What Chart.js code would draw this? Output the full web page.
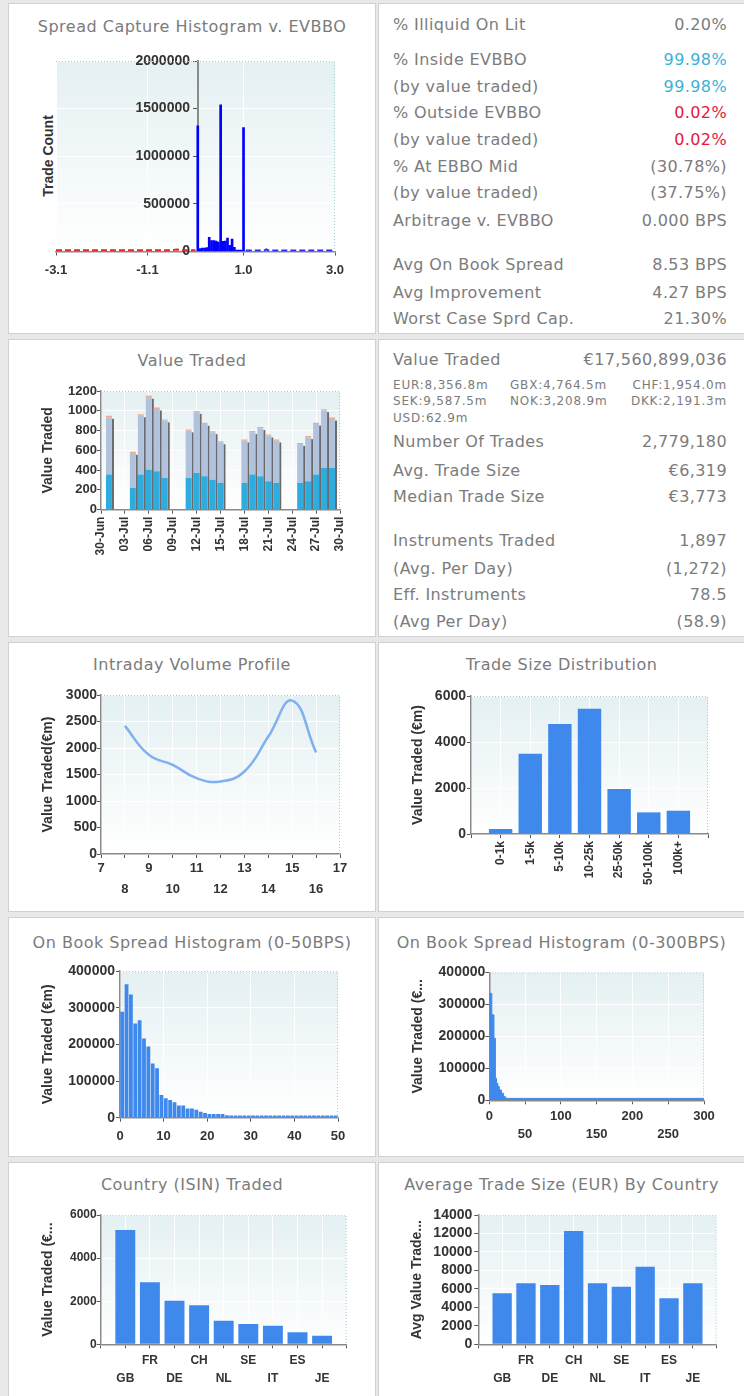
<!DOCTYPE html>
<html>
<head>
<meta charset="utf-8">
<script src="https://cdn.jsdelivr.net/npm/chart.js@4.4.1/dist/chart.umd.min.js"></script>
<style>
  body { margin: 0; width: 744px; height: 1396px; background: #e8e8e8; position: relative; overflow: hidden;
         font-family: "DejaVu Sans", Verdana, sans-serif; }
  .panel { position: absolute; background: #fff; border: 1px solid #d0d0d0; box-sizing: border-box; }
  .ttl { position: absolute; height: 20px; line-height: 20px; font-size: 16px; letter-spacing: 0.5px;
         color: #7b7b7b; text-align: center; white-space: nowrap; }
  .row { position: absolute; left: 393px; width: 334px; height: 20px; line-height: 20px; font-size: 16px;
         letter-spacing: 0.4px; color: #7c7c7c; white-space: nowrap; }
  .row span { position: absolute; right: 0; }
  .cur { position: absolute; height: 16px; line-height: 16px; font-size: 12px; letter-spacing: 0.8px;
         color: #7c7c7c; white-space: nowrap; }
  .cy { color: #3bb2d8; }
  .rd { color: #e5183c; }
  .ytl { position: absolute; transform: translate(-50%, -50%) rotate(-90deg); white-space: nowrap;
         font: bold 14px "Liberation Sans", Arial, sans-serif; color: #333; }
  canvas { position: absolute; }
</style>
</head>
<body>
<div class="panel" style="left:8px;top:3px;width:368px;height:331px"></div>
<div class="panel" style="left:378px;top:3px;width:367px;height:331px"></div>
<div class="panel" style="left:8px;top:339px;width:368px;height:298px"></div>
<div class="panel" style="left:378px;top:339px;width:367px;height:298px"></div>
<div class="panel" style="left:8px;top:642px;width:368px;height:270px"></div>
<div class="panel" style="left:378px;top:642px;width:367px;height:270px"></div>
<div class="panel" style="left:8px;top:917px;width:368px;height:240px"></div>
<div class="panel" style="left:378px;top:917px;width:367px;height:240px"></div>
<div class="panel" style="left:8px;top:1162px;width:368px;height:240px"></div>
<div class="panel" style="left:378px;top:1162px;width:367px;height:240px"></div>

<div class="ttl" style="left:8px;width:368px;top:17px">Spread Capture Histogram v. EVBBO</div>
<div class="ttl" style="left:8px;width:368px;top:351px">Value Traded</div>
<div class="ttl" style="left:8px;width:368px;top:655px">Intraday Volume Profile</div>
<div class="ttl" style="left:378px;width:367px;top:655px">Trade Size Distribution</div>
<div class="ttl" style="left:8px;width:368px;top:933px">On Book Spread Histogram (0-50BPS)</div>
<div class="ttl" style="left:378px;width:367px;top:933px">On Book Spread Histogram (0-300BPS)</div>
<div class="ttl" style="left:8px;width:368px;top:1175px">Country (ISIN) Traded</div>
<div class="ttl" style="left:378px;width:367px;top:1175px">Average Trade Size (EUR) By Country</div>

<div class="ytl" style="left:48px;top:156px">Trade Count</div>

<div id="stats"></div>

<canvas id="c1"></canvas>
<canvas id="c2"></canvas>
<canvas id="c3"></canvas>
<canvas id="c4"></canvas>
<canvas id="c5"></canvas>
<canvas id="c6"></canvas>
<canvas id="c7"></canvas>
<canvas id="c8"></canvas>

<script>
// ---- data ----
const captureTicks = [-3.1, -1.1, 1.0, 3.0];
const captureBinX = [0.00, 0.05, 0.10, 0.15, 0.20, 0.25, 0.30, 0.35, 0.40, 0.45, 0.50,
                     0.55, 0.60, 0.65, 0.70, 0.75, 0.80, 0.85, 0.90, 0.95, 1.00];
const captureBinCount = [1320000, 30000, 35000, 35000, 40000, 150000, 115000, 115000, 110000, 98000, 1540000,
                         108000, 110000, 140000, 65000, 130000, 45000, 15000, 15000, 15000, 1300000];
const outsideX = [-3.1, -2.5, -2.0, -1.5, -1.0, -0.6, -0.45, -0.3, -0.05];
const outsideCount = [12000, 12000, 12000, 12000, 12000, 12000, 20000, 12000, 12000];
const tailX = [1.05, 1.45, 1.5, 1.55, 2.0, 2.5, 3.0];
const tailCount = [10000, 10000, 22000, 10000, 10000, 10000, 10000];

const tradeDays = [1, 4, 5, 6, 7, 8, 11, 12, 13, 14, 15, 18, 19, 20, 21, 22, 25, 26, 27, 28, 29];
const dayTickLabels = ['30-Jun', '03-Jul', '06-Jul', '09-Jul', '12-Jul', '15-Jul',
                       '18-Jul', '21-Jul', '24-Jul', '27-Jul', '30-Jul'];
const valueEur = [355, 220, 355, 405, 389, 321, 321, 372, 338, 304, 270, 270, 355, 338, 287, 270, 270, 287, 355, 422, 422];
const valueOther = [580, 353, 596, 732, 630, 580, 478, 613, 529, 478, 411, 428, 427, 485, 462, 428, 394, 445, 512, 580, 496];
const valueCap = [14, 12, 13, 15, 14, 12, 13, 14, 12, 12, 11, 12, 13, 13, 12, 12, 11, 12, 13, 14, 13];

const hours = [8, 9, 10, 11, 12, 13, 14, 15, 16];
const hourValues = [2417, 1871, 1682, 1431, 1368, 1557, 2216, 2894, 1915];

const sizeBuckets = ['0-1k', '1-5k', '5-10k', '10-25k', '25-50k', '50-100k', '100k+'];
const sizeValues = [217, 3484, 4785, 5450, 1952, 940, 1012];

const spread50 = [289000, 364000, 336000, 257000, 266000, 216000, 194000, 148000, 135000, 62000,
                  53000, 48000, 42000, 33000, 33000, 25000, 25000, 22000, 16000, 13000,
                  10000, 10000, 10000, 10000, 7000, 6000, 6000, 6000, 6000, 6000,
                  6000, 6000, 6000, 6000, 6000, 6000, 6000, 6000, 6000, 6000,
                  6000, 6000, 6000, 6000, 6000, 6000, 6000, 6000, 6000, 6000];

// right edge of each bin and its value (0-300 BPS)
const spread300Edges = [0, 3.5, 6.5, 8.5, 10, 12, 14, 17, 20, 23, 300];
const spread300Values = [334000, 334000, 267000, 194000, 69000, 53000, 43000, 32000, 22000, 11000, 6000];

const countries = ['GB', 'FR', 'DE', 'CH', 'NL', 'SE', 'IT', 'ES', 'JE'];
const countryValue = [5304, 2876, 2026, 1809, 1098, 943, 866, 557, 402];
const countryAvgSize = [5521, 6604, 6423, 12270, 6604, 6243, 8408, 4980, 6604];

// ---- stats text ----
const statRows = [
  ['% Illiquid On Lit', '0.20%', 25, ''],
  ['% Inside EVBBO', '99.98%', 60, 'cy'],
  ['(by value traded)', '99.98%', 87, 'cy'],
  ['% Outside EVBBO', '0.02%', 113, 'rd'],
  ['(by value traded)', '0.02%', 140, 'rd'],
  ['% At EBBO Mid', '(30.78%)', 167, ''],
  ['(by value traded)', '(37.75%)', 193, ''],
  ['Arbitrage v. EVBBO', '0.000 BPS', 221, ''],
  ['Avg On Book Spread', '8.53 BPS', 265, ''],
  ['Avg Improvement', '4.27 BPS', 293, ''],
  ['Worst Case Sprd Cap.', '21.30%', 319, ''],
  ['Value Traded', '€17,560,899,036', 360, ''],
  ['Number Of Trades', '2,779,180', 442, ''],
  ['Avg. Trade Size', '€6,319', 471, ''],
  ['Median Trade Size', '€3,773', 497, ''],
  ['Instruments Traded', '1,897', 541, ''],
  ['(Avg. Per Day)', '(1,272)', 569, ''],
  ['Eff. Instruments', '78.5', 595, ''],
  ['(Avg Per Day)', '(58.9)', 622, '']
];
const currencyRows = [
  ['EUR:8,356.8m', 'GBX:4,764.5m', 'CHF:1,954.0m', 385],
  ['SEK:9,587.5m', 'NOK:3,208.9m', 'DKK:2,191.3m', 401],
  ['USD:62.9m', '', '', 418]
];

const stats = document.getElementById('stats');
statRows.forEach(([label, value, y, cls]) => {
  const d = document.createElement('div');
  d.className = 'row';
  d.style.top = (y - 10) + 'px';
  d.textContent = label;
  const s = document.createElement('span');
  s.textContent = value;
  if (cls) s.className = cls;
  d.appendChild(s);
  stats.appendChild(d);
});
currencyRows.forEach(([a, b, c, y]) => {
  [[a, 'left:393px'], [b, 'left:510px'], [c, 'right:17px']].forEach(([t, pos]) => {
    if (!t) return;
    const d = document.createElement('div');
    d.className = 'cur';
    d.style.cssText = pos + ';top:' + (y - 8) + 'px';
    d.textContent = t;
    stats.appendChild(d);
  });
});

// ---- chart defaults ----
Chart.defaults.font.family = "'Liberation Sans', Arial, sans-serif";
Chart.defaults.font.weight = 'bold';
Chart.defaults.font.size = 14;
Chart.defaults.color = '#333';
Chart.defaults.animation = false;
Chart.defaults.responsive = false;
Chart.defaults.devicePixelRatio = 1;
Chart.defaults.plugins.legend.display = false;
Chart.defaults.plugins.tooltip.enabled = false;

// pale gradient plot area with dotted top/right border
Chart.register({
  id: 'plotBg',
  beforeDraw(chart) {
    const { ctx, chartArea: a } = chart;
    const g = ctx.createLinearGradient(0, a.top, 0, a.bottom);
    g.addColorStop(0, '#e4f0f2');
    g.addColorStop(1, '#ffffff');
    ctx.save();
    ctx.fillStyle = g;
    ctx.fillRect(a.left, a.top, a.right - a.left, a.bottom - a.top);
    ctx.restore();
  },
  afterDraw(chart) {
    const { ctx, chartArea: a } = chart;
    ctx.save();
    ctx.strokeStyle = '#9ccbd2';
    ctx.lineWidth = 1;
    ctx.setLineDash([1, 2]);
    ctx.beginPath();
    ctx.moveTo(a.left, a.top + 0.5);
    ctx.lineTo(a.right - 0.5, a.top + 0.5);
    ctx.lineTo(a.right - 0.5, a.bottom);
    ctx.stroke();
    ctx.restore();
  }
});

// canvas box and plot rect in page pixels
function frame(id, box, plot, titleX) {
  const c = document.getElementById(id);
  c.width = box[2];
  c.height = box[3];
  c.style.left = box[0] + 'px';
  c.style.top = box[1] + 'px';
  const scaleLeft = titleX - 7;
  return {
    padding: { left: scaleLeft - box[0], top: plot[1] - box[1], right: box[0] + box[2] - plot[2], bottom: 0 },
    yWidth: plot[0] - scaleLeft,
    xHeight: box[1] + box[3] - plot[3]
  };
}

function yAxis(f, max, step, title, pad, size) {
  return {
    min: 0, max: max,
    ticks: { stepSize: step, padding: pad, autoSkip: false, font: { size: size || 14 }, callback: v => String(v) },
    grid: { color: '#ffffff', tickColor: '#555', tickLength: 4 },
    border: { color: '#8a8a8a', width: 1.5 },
    title: { display: true, text: title, padding: 0, color: '#333', font: { size: 14, weight: 'bold', lineHeight: 1 } },
    afterFit: s => { s.width = f.yWidth; }
  };
}

function xAxis(f, min, max, step, pad, size, lineHeight, callback, rotate) {
  return {
    type: 'linear', min: min, max: max, offset: false,
    ticks: { stepSize: step, padding: pad, autoSkip: false, maxRotation: rotate ? 90 : 0, minRotation: rotate ? 90 : 0,
             font: { size: size, lineHeight: lineHeight }, callback: callback },
    grid: { color: '#ffffff', tickColor: '#555', tickLength: 4, offset: false },
    border: { color: '#8a8a8a', width: 1.5 },
    afterFit: s => { s.height = f.xHeight; }
  };
}

const altRows = (v, first) => (first ? [String(v)] : ['', String(v)]);

// 1. spread capture histogram (y axis crosses at x = 0)
const f1 = frame('c1', [9, 40, 365, 290], [56, 61, 335, 251.5], 63);
const x1 = xAxis(f1, -3.1, 3.0, 1, 7, 13, 1.2, v => v.toFixed(1));
x1.afterBuildTicks = s => { s.ticks = captureTicks.map(v => ({ value: v })); };
new Chart('c1', {
  type: 'bar',
  data: {
    datasets: [
      { type: 'line', data: outsideX.map((x, i) => ({ x: x, y: outsideCount[i] })),
        borderColor: '#e4262a', borderWidth: 2, borderDash: [6, 3], pointRadius: 0 },
      { type: 'line', data: tailX.map((x, i) => ({ x: x, y: tailCount[i] })),
        borderColor: '#2b2bff', borderWidth: 2, borderDash: [6, 3], pointRadius: 0 },
      { type: 'bar', data: captureBinX.map((x, i) => ({ x: x, y: captureBinCount[i] })),
        backgroundColor: '#0000ff', barThickness: 2 }
    ]
  },
  options: {
    layout: { padding: f1.padding },
    scales: {
      x: x1,
      y: {
        position: { x: 0 }, min: 0, max: 2000000,
        ticks: { stepSize: 500000, autoSkip: false, callback: v => String(v) + '  ' },
        grid: { color: '#ffffff', tickColor: '#555', tickLength: 4 },
        border: { color: '#8a8a8a', width: 2 }
      }
    }
  }
});

// 2. value traded (stacked)
const f2 = frame('c2', [9, 375, 365, 255], [101, 391, 340, 509.7], 48);
const barShadow = {
  id: 'barShadow',
  beforeDatasetsDraw(chart) {
    const tops = chart.getDatasetMeta(2).data;
    const bases = chart.getDatasetMeta(0).data;
    const ctx = chart.ctx;
    ctx.save();
    ctx.fillStyle = '#6a6a6a';
    tops.forEach((bar, i) => {
      const p = bar.getProps(['x', 'y', 'width'], true);
      const b = bases[i].getProps(['base'], true).base;
      ctx.fillRect(p.x + p.width / 2, p.y + 3, 2, b - p.y - 3);
    });
    ctx.restore();
  }
};
const x2 = xAxis(f2, 0, 30, 3, 3, 12, 1.2, (v, i) => dayTickLabels[i], true);
x2.stacked = true;
const y2 = yAxis(f2, 1200, 200, 'Value Traded', 0, 13);
y2.stacked = true;
new Chart('c2', {
  type: 'bar',
  data: {
    datasets: [
      { data: tradeDays.map((d, i) => ({ x: d, y: valueEur[i] })), backgroundColor: '#2eace0' },
      { data: tradeDays.map((d, i) => ({ x: d, y: valueOther[i] })), backgroundColor: '#b0c2dc' },
      { data: tradeDays.map((d, i) => ({ x: d, y: valueCap[i] })), backgroundColor: '#f4a88a' }
    ]
  },
  options: {
    datasets: { bar: { barPercentage: 0.75, categoryPercentage: 1 } },
    layout: { padding: f2.padding },
    scales: { x: x2, y: y2 }
  },
  plugins: [barShadow]
});

// 3. intraday volume profile
const f3 = frame('c3', [9, 680, 365, 228], [101, 695, 340, 854], 48);
new Chart('c3', {
  type: 'line',
  data: {
    datasets: [{ data: hours.map((h, i) => ({ x: h, y: hourValues[i] })),
      borderColor: '#7fb0ef', borderWidth: 2.5, tension: 0.45, pointRadius: 0 }]
  },
  options: {
    layout: { padding: f3.padding },
    scales: {
      x: xAxis(f3, 7, 17, 1, 0, 13, 1.6, v => altRows(v, v % 2 === 1)),
      y: yAxis(f3, 3000, 500, 'Value Traded(€m)', 0)
    }
  }
});

// 4. trade size distribution
const f4 = frame('c4', [379, 680, 364, 228], [471, 696, 708, 834], 418);
new Chart('c4', {
  type: 'bar',
  data: { datasets: [{ data: sizeValues.map((v, i) => ({ x: i + 1, y: v })), backgroundColor: '#3f88ec' }] },
  options: {
    datasets: { bar: { barPercentage: 0.79, categoryPercentage: 1 } },
    layout: { padding: f4.padding },
    scales: {
      x: xAxis(f4, 0, 8, 1, 3, 12, 1.2, v => sizeBuckets[v - 1] || '', true),
      y: yAxis(f4, 6000, 2000, 'Value Traded (€m)', 1)
    }
  }
});

// 5. on book spread 0-50
const f5 = frame('c5', [9, 958, 365, 196], [120, 971, 338, 1117.7], 48);
new Chart('c5', {
  type: 'bar',
  data: { datasets: [{ data: spread50.map((v, i) => ({ x: i + 0.5, y: v })), backgroundColor: '#3f88ec' }] },
  options: {
    datasets: { bar: { barPercentage: 0.88, categoryPercentage: 1 } },
    layout: { padding: f5.padding },
    scales: {
      x: xAxis(f5, 0, 50, 10, 7, 13, 1.2, v => String(v)),
      y: yAxis(f5, 400000, 100000, 'Value Traded (€m)', 1)
    }
  }
});

// 6. on book spread 0-300 (step drawn back to the previous edge)
const f6 = frame('c6', [379, 958, 364, 196], [489.3, 972.3, 704, 1100.3], 418);
new Chart('c6', {
  type: 'line',
  data: {
    datasets: [{ data: spread300Edges.map((x, i) => ({ x: x, y: spread300Values[i] })),
      stepped: 'after', fill: 'origin', backgroundColor: '#3f88ec', borderColor: '#3f88ec',
      borderWidth: 1, pointRadius: 0 }]
  },
  options: {
    layout: { padding: f6.padding },
    scales: {
      x: xAxis(f6, 0, 300, 50, 3, 13, 1.4, v => altRows(v, (v / 50) % 2 === 0)),
      y: yAxis(f6, 400000, 100000, 'Value Traded (€...', 0)
    }
  }
});

// 7. country traded
const countryTick = v => (v >= 1 && v <= 9 ? altRows(countries[v - 1], (v - 1) % 2 === 1) : '');
const f7 = frame('c7', [9, 1200, 365, 196], [100.7, 1215, 346.7, 1344.3], 48);
new Chart('c7', {
  type: 'bar',
  data: { datasets: [{ data: countryValue.map((v, i) => ({ x: i + 1, y: v })), backgroundColor: '#3f88ec' }] },
  options: {
    datasets: { bar: { barPercentage: 0.81, categoryPercentage: 1 } },
    layout: { padding: f7.padding },
    scales: {
      x: xAxis(f7, 0, 10, 1, 3, 12, 1.5, countryTick),
      y: yAxis(f7, 6000, 2000, 'Value Traded (€...', 0, 12)
    }
  }
});

// 8. average trade size by country
const f8 = frame('c8', [379, 1200, 364, 196], [478.3, 1215, 716.7, 1344.3], 416.7);
new Chart('c8', {
  type: 'bar',
  data: { datasets: [{ data: countryAvgSize.map((v, i) => ({ x: i + 1, y: v })), backgroundColor: '#3f88ec' }] },
  options: {
    datasets: { bar: { barPercentage: 0.81, categoryPercentage: 1 } },
    layout: { padding: f8.padding },
    scales: {
      x: xAxis(f8, 0, 10, 1, 3, 12, 1.5, countryTick),
      y: yAxis(f8, 14000, 2000, 'Avg Value Trade...', 2)
    }
  }
});
</script>
</body>
</html>
